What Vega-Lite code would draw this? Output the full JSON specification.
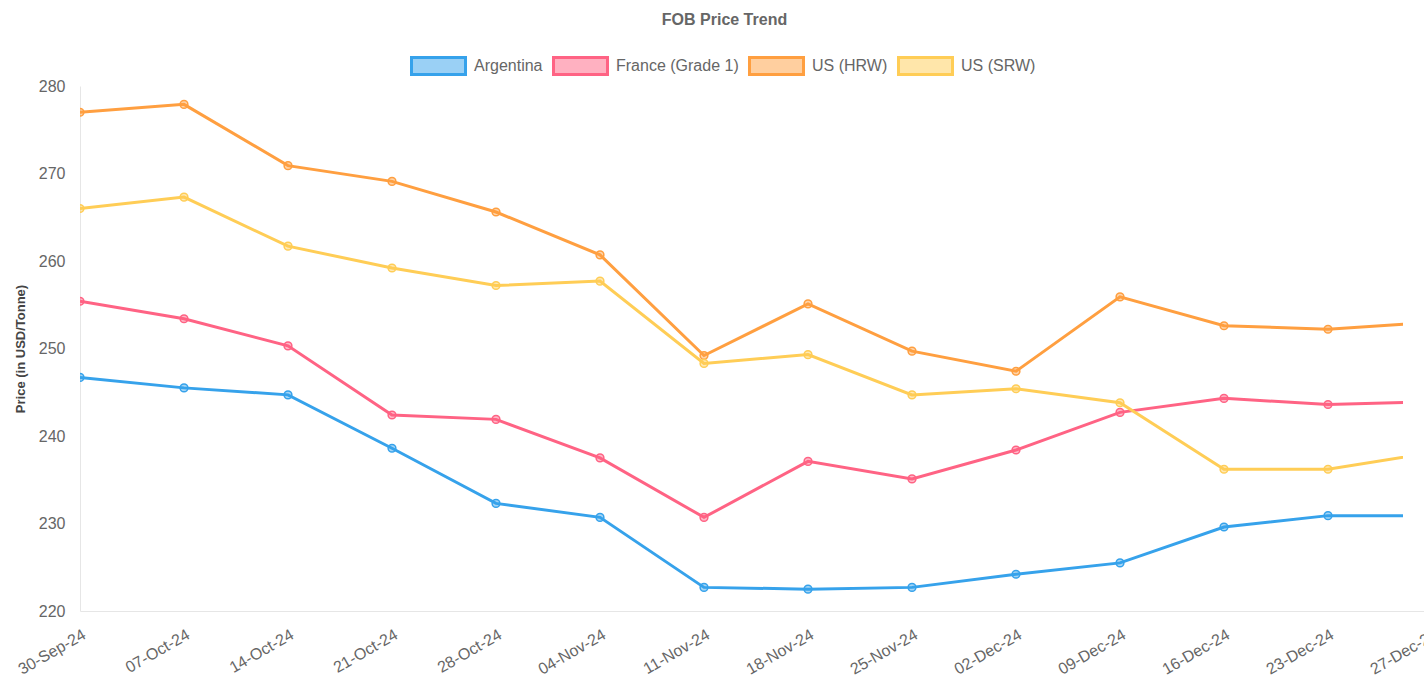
{
  "$schema": "https://vega.github.io/schema/vega-lite/v6.json",
  "autosize": {"type": "none"},
  "padding": {"left": 80, "top": 86, "right": 40, "bottom": 66},
  "width": 1323,
  "height": 525,
  "background": "white",
  "title": {"text": "FOB Price Trend", "fontSize": 16, "fontWeight": "bold", "color": "#666666", "font": "Liberation Sans", "anchor": "middle", "dx": -17, "offset": 9},
  "data": {"values": [
    {"week": "30-Sep-24", "country": "Argentina", "price": 246.7},
    {"week": "30-Sep-24", "country": "France (Grade 1)", "price": 255.4},
    {"week": "30-Sep-24", "country": "US (HRW)", "price": 277.0},
    {"week": "30-Sep-24", "country": "US (SRW)", "price": 266.0},
    {"week": "07-Oct-24", "country": "Argentina", "price": 245.5},
    {"week": "07-Oct-24", "country": "France (Grade 1)", "price": 253.4},
    {"week": "07-Oct-24", "country": "US (HRW)", "price": 277.9},
    {"week": "07-Oct-24", "country": "US (SRW)", "price": 267.3},
    {"week": "14-Oct-24", "country": "Argentina", "price": 244.7},
    {"week": "14-Oct-24", "country": "France (Grade 1)", "price": 250.3},
    {"week": "14-Oct-24", "country": "US (HRW)", "price": 270.9},
    {"week": "14-Oct-24", "country": "US (SRW)", "price": 261.7},
    {"week": "21-Oct-24", "country": "Argentina", "price": 238.6},
    {"week": "21-Oct-24", "country": "France (Grade 1)", "price": 242.4},
    {"week": "21-Oct-24", "country": "US (HRW)", "price": 269.1},
    {"week": "21-Oct-24", "country": "US (SRW)", "price": 259.2},
    {"week": "28-Oct-24", "country": "Argentina", "price": 232.3},
    {"week": "28-Oct-24", "country": "France (Grade 1)", "price": 241.9},
    {"week": "28-Oct-24", "country": "US (HRW)", "price": 265.6},
    {"week": "28-Oct-24", "country": "US (SRW)", "price": 257.2},
    {"week": "04-Nov-24", "country": "Argentina", "price": 230.7},
    {"week": "04-Nov-24", "country": "France (Grade 1)", "price": 237.5},
    {"week": "04-Nov-24", "country": "US (HRW)", "price": 260.7},
    {"week": "04-Nov-24", "country": "US (SRW)", "price": 257.7},
    {"week": "11-Nov-24", "country": "Argentina", "price": 222.7},
    {"week": "11-Nov-24", "country": "France (Grade 1)", "price": 230.7},
    {"week": "11-Nov-24", "country": "US (HRW)", "price": 249.2},
    {"week": "11-Nov-24", "country": "US (SRW)", "price": 248.3},
    {"week": "18-Nov-24", "country": "Argentina", "price": 222.5},
    {"week": "18-Nov-24", "country": "France (Grade 1)", "price": 237.1},
    {"week": "18-Nov-24", "country": "US (HRW)", "price": 255.1},
    {"week": "18-Nov-24", "country": "US (SRW)", "price": 249.3},
    {"week": "25-Nov-24", "country": "Argentina", "price": 222.7},
    {"week": "25-Nov-24", "country": "France (Grade 1)", "price": 235.1},
    {"week": "25-Nov-24", "country": "US (HRW)", "price": 249.7},
    {"week": "25-Nov-24", "country": "US (SRW)", "price": 244.7},
    {"week": "02-Dec-24", "country": "Argentina", "price": 224.2},
    {"week": "02-Dec-24", "country": "France (Grade 1)", "price": 238.4},
    {"week": "02-Dec-24", "country": "US (HRW)", "price": 247.4},
    {"week": "02-Dec-24", "country": "US (SRW)", "price": 245.4},
    {"week": "09-Dec-24", "country": "Argentina", "price": 225.5},
    {"week": "09-Dec-24", "country": "France (Grade 1)", "price": 242.7},
    {"week": "09-Dec-24", "country": "US (HRW)", "price": 255.9},
    {"week": "09-Dec-24", "country": "US (SRW)", "price": 243.8},
    {"week": "16-Dec-24", "country": "Argentina", "price": 229.6},
    {"week": "16-Dec-24", "country": "France (Grade 1)", "price": 244.3},
    {"week": "16-Dec-24", "country": "US (HRW)", "price": 252.6},
    {"week": "16-Dec-24", "country": "US (SRW)", "price": 236.2},
    {"week": "23-Dec-24", "country": "Argentina", "price": 230.9},
    {"week": "23-Dec-24", "country": "France (Grade 1)", "price": 243.6},
    {"week": "23-Dec-24", "country": "US (HRW)", "price": 252.2},
    {"week": "23-Dec-24", "country": "US (SRW)", "price": 236.2},
    {"week": "27-Dec-24", "country": "Argentina", "price": 230.9},
    {"week": "27-Dec-24", "country": "France (Grade 1)", "price": 243.9},
    {"week": "27-Dec-24", "country": "US (HRW)", "price": 253.0},
    {"week": "27-Dec-24", "country": "US (SRW)", "price": 238.1}
  ]},
  "encoding": {
    "x": {
      "field": "week", "type": "ordinal",
      "sort": ["30-Sep-24","07-Oct-24","14-Oct-24","21-Oct-24","28-Oct-24","04-Nov-24","11-Nov-24","18-Nov-24","25-Nov-24","02-Dec-24","09-Dec-24","16-Dec-24","23-Dec-24","27-Dec-24"],
      "scale": {"type": "point", "padding": 0, "range": [0, 1352]},
      "axis": {"title": null, "labelAngle": -30, "labelAlign": "right", "labelBaseline": "top", "labelPadding": 15, "labelDx": -3, "ticks": false, "tickSize": 0, "grid": false, "domainColor": "#e6e6e6", "labelFontSize": 16, "labelColor": "#666666", "labelFont": "Liberation Sans"}
    },
    "y": {
      "field": "price", "type": "quantitative",
      "scale": {"domain": [220, 280], "nice": false, "zero": false},
      "axis": {"title": "Price (in USD/Tonne)", "titleFontSize": 13, "titleFontWeight": "bold", "titleColor": "#444444", "titleFont": "Liberation Sans", "titlePadding": 11, "values": [220, 230, 240, 250, 260, 270, 280], "ticks": false, "tickSize": 0, "grid": false, "domainColor": "#e6e6e6", "labelPadding": 15, "labelFontSize": 16, "labelColor": "#666666", "labelFont": "Liberation Sans"}
    },
    "color": {
      "field": "country", "type": "nominal",
      "scale": {"domain": ["Argentina", "France (Grade 1)", "US (HRW)", "US (SRW)"], "range": ["#36A2EB", "#FF6384", "#FF9F40", "#FFCD56"]},
      "legend": {
        "title": null, "orient": "none", "legendX": 330, "legendY": -49, "direction": "horizontal",
        "symbolType": "M-1,-0.315L1,-0.315L1,0.315L-1,0.315Z", "symbolSize": 2916, "symbolStrokeWidth": 3, "symbolOpacity": 1,
        "labelFontSize": 16, "labelColor": "#666666", "labelFont": "Liberation Sans", "labelOffset": 7, "columnPadding": 4,
        "encode": {"symbols": {"update": {"fill": {"scale": "color", "field": "value"}, "fillOpacity": {"value": 0.5}, "stroke": {"scale": "color", "field": "value"}}}}
      }
    }
  },
  "layer": [
    {"mark": {"type": "line", "strokeWidth": 3, "clip": true}},
    {"mark": {"type": "point", "filled": true, "size": 60, "fillOpacity": 0.45, "strokeWidth": 1.5, "opacity": 1, "clip": true},
     "encoding": {"stroke": {"field": "country", "type": "nominal", "scale": {"domain": ["Argentina", "France (Grade 1)", "US (HRW)", "US (SRW)"], "range": ["#36A2EB", "#FF6384", "#FF9F40", "#FFCD56"]}, "legend": null}}}
  ],
  "config": {"view": {"stroke": null}, "font": "Liberation Sans"}
}
